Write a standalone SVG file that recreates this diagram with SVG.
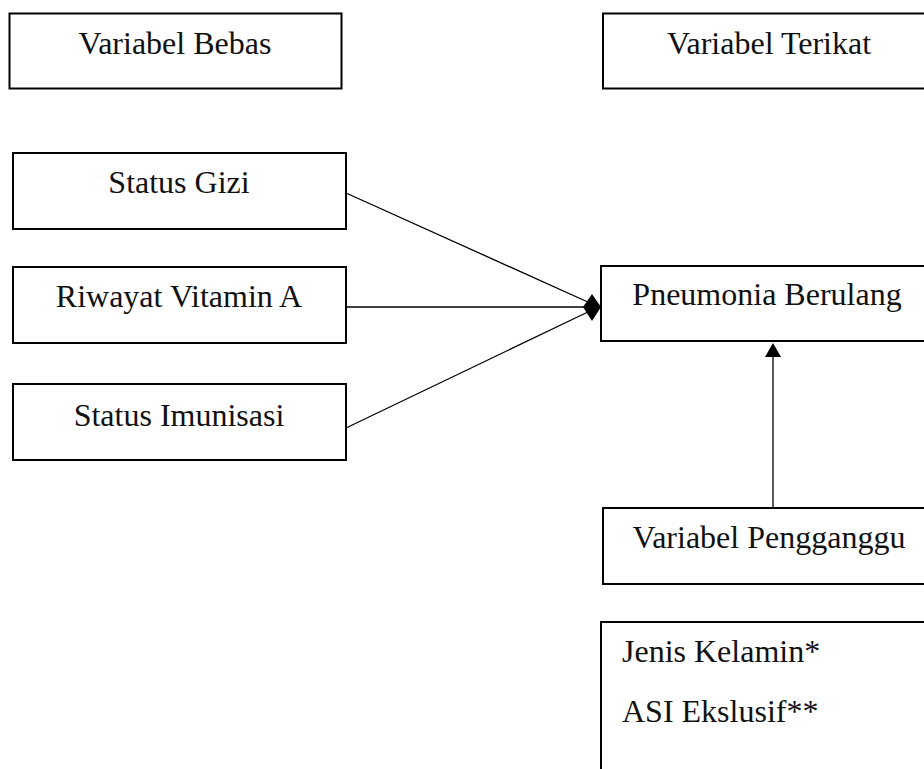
<svg xmlns="http://www.w3.org/2000/svg" width="924" height="769" viewBox="0 0 924 769">
<style>
.box{fill:#fff;stroke:#000;stroke-width:2}
.ln{stroke:#000;stroke-width:1.3;fill:none}
</style>
<rect width="924" height="769" fill="#fff"/>
<g font-family="'Liberation Serif', 'Times New Roman', serif" font-size="32" fill="#111">
<g id="variabel-bebas"><rect class="box" x="9.5" y="13.5" width="332" height="75"/><text x="175" y="54" text-anchor="middle">Variabel Bebas</text></g>
<g id="variabel-terikat"><rect class="box" x="603" y="13.5" width="332" height="75"/><text x="769" y="54" text-anchor="middle">Variabel Terikat</text></g>
<g id="status-gizi"><rect class="box" x="13" y="153" width="333" height="76"/><text x="179" y="193" text-anchor="middle">Status Gizi</text></g>
<g id="riwayat-vitamin-a"><rect class="box" x="13" y="267" width="333" height="76"/><text x="179" y="307" text-anchor="middle">Riwayat Vitamin A</text></g>
<g id="status-imunisasi"><rect class="box" x="13" y="384" width="333" height="76"/><text x="179" y="426" text-anchor="middle">Status Imunisasi</text></g>
<g id="pneumonia-berulang"><rect class="box" x="601" y="266" width="332" height="75"/><text x="767" y="305" text-anchor="middle">Pneumonia Berulang</text></g>
<g id="variabel-pengganggu"><rect class="box" x="603" y="508" width="332" height="76"/><text x="769" y="548" text-anchor="middle">Variabel Pengganggu</text></g>
<g id="pengganggu-list"><rect class="box" x="601" y="622" width="332" height="170"/><text x="622" y="662">Jenis Kelamin*</text><text x="622" y="722">ASI Ekslusif**</text></g>
</g>
<g id="connectors">
<line class="ln" x1="346" y1="193" x2="590" y2="303"/>
<line class="ln" x1="346" y1="307" x2="590" y2="307"/>
<line class="ln" x1="346" y1="428" x2="590" y2="311"/>
<polygon points="583,307 592,294 601,307 592,321" fill="#000"/>
<line class="ln" x1="773" y1="355" x2="773" y2="508"/>
<polygon points="773,343 765,357 781,357" fill="#000"/>
</g>
</svg>
